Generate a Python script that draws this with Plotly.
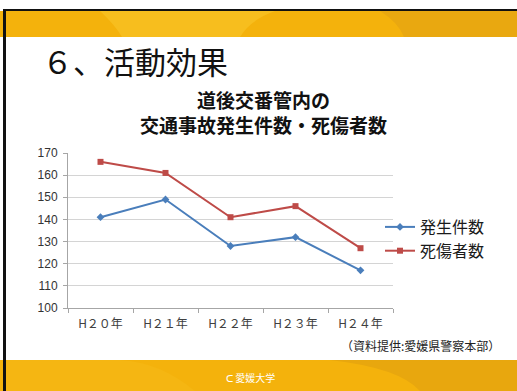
import plotly.graph_objects as go

categories = ["H２０年", "H２１年", "H２２年", "H２３年", "H２４年"]
hassei = [141, 149, 128, 132, 117]
shisho = [166, 161, 141, 146, 127]
series_names = ["発生件数", "死傷者数"]
y_ticks = [100, 110, 120, 130, 140, 150, 160, 170]

W, H = 517, 391
L, R, T, B = 68, 393, 153, 308

fig = go.Figure()
fig.add_trace(go.Scatter(
    x=categories, y=hassei, name=series_names[0], mode="lines+markers",
    line=dict(color="#4A7EBB", width=2),
    marker=dict(symbol="diamond", size=6, color="#4A7EBB"),
))
fig.add_trace(go.Scatter(
    x=categories, y=shisho, name=series_names[1], mode="lines+markers",
    line=dict(color="#BE4B48", width=2),
    marker=dict(symbol="square", size=6, color="#BE4B48"),
))

jp = "Noto Sans CJK JP, Noto Sans, sans-serif"

def px(x):
    return (x - L) / (R - L)

def py(y):
    return (B - y) / (B - T)

fig.update_layout(
    width=W, height=H,
    margin=dict(l=L, r=W - R, t=T, b=H - B),
    paper_bgcolor="white", plot_bgcolor="white",
    font=dict(family=jp, color="#404040"),
    showlegend=True,
    legend=dict(
        x=px(380), xanchor="left",
        y=py(239), yanchor="middle",
        font=dict(size=16, color="#1a1a1a", family=jp),
        itemwidth=30, tracegroupgap=0, bgcolor="rgba(0,0,0,0)",
    ),
    xaxis=dict(
        type="category", showgrid=False, showline=True, linecolor="#a6a6a6",
        ticks="outside", tickson="boundaries", ticklen=4, tickcolor="#a6a6a6",
        tickfont=dict(size=12, color="#404040", family=jp),
        ticklabelstandoff=5,
        range=[-0.5, 4.5],
    ),
    yaxis=dict(
        range=[100, 170], tickvals=y_ticks, showgrid=True, gridcolor="#d4d4d4",
        showline=True, linecolor="#a6a6a6", ticks="outside", ticklen=4,
        tickcolor="#a6a6a6", zeroline=False, ticklabelstandoff=3,
        tickfont=dict(size=12, color="#333333", family="Liberation Sans, Arial, sans-serif"),
    ),
)

shapes = [
    # top orange band
    dict(type="rect", xref="paper", yref="paper", x0=px(0), x1=px(517),
         y0=py(37), y1=py(11), fillcolor="#F4B20C", line=dict(width=0), layer="below"),
    # bottom orange band
    dict(type="rect", xref="paper", yref="paper", x0=px(0), x1=px(517),
         y0=py(391), y1=py(360), fillcolor="#F4B20C", line=dict(width=0), layer="below"),
    # swooshes
    dict(type="path", xref="paper", yref="paper",
         path=f"M {px(100)},{py(11)} Q {px(115)},{py(25)} {px(122)},{py(37)} L {px(240)},{py(37)} Q {px(250)},{py(20)} {px(275)},{py(11)} Z",
         fillcolor="#F7BE1E", line=dict(width=0), layer="below"),
    dict(type="path", xref="paper", yref="paper",
         path=f"M {px(380)},{py(11)} Q {px(398)},{py(22)} {px(404)},{py(37)} L {px(517)},{py(37)} L {px(517)},{py(11)} Z",
         fillcolor="#E9A810", line=dict(width=0), layer="below"),
    dict(type="path", xref="paper", yref="paper",
         path=f"M {px(120)},{py(360)} Q {px(160)},{py(362)} {px(195)},{py(391)} L {px(6)},{py(391)} L {px(6)},{py(360)} Z",
         fillcolor="#F5B612", line=dict(width=0), layer="below"),
    dict(type="path", xref="paper", yref="paper",
         path=f"M {px(330)},{py(360)} Q {px(400)},{py(368)} {px(420)},{py(391)} L {px(517)},{py(391)} L {px(517)},{py(360)} Z",
         fillcolor="#E8A70E", line=dict(width=0), layer="below"),
    # black frame lines
    dict(type="rect", xref="paper", yref="paper", x0=px(3), x1=px(517),
         y0=py(11), y1=py(9), fillcolor="#111111", line=dict(width=0)),
    dict(type="rect", xref="paper", yref="paper", x0=px(3), x1=px(6),
         y0=py(391), y1=py(9), fillcolor="#111111", line=dict(width=0)),
]
fig.update_layout(shapes=shapes)

annotations = [
    dict(text="６、活動効果", xref="paper", yref="paper", x=px(40), y=py(63),
         xanchor="left", yanchor="middle", showarrow=False,
         font=dict(size=31, color="#111111", family="Liberation Serif, Noto Sans CJK JP, serif")),
    dict(text="<b>道後交番管内の</b>", xref="paper", yref="paper", x=px(263), y=py(99),
         xanchor="center", yanchor="middle", showarrow=False,
         font=dict(size=19, color="#111111", family=jp)),
    dict(text="<b>交通事故発生件数・死傷者数</b>", xref="paper", yref="paper", x=px(263), y=py(124),
         xanchor="center", yanchor="middle", showarrow=False,
         font=dict(size=19, color="#111111", family=jp)),
    dict(text="（資料提供:愛媛県警察本部）", xref="paper", yref="paper", x=px(502), y=py(345),
         xanchor="right", yanchor="middle", showarrow=False,
         font=dict(size=12, color="#222222", family=jp)),
    dict(text="ᑕ 愛媛大学", xref="paper", yref="paper", x=px(250), y=py(377),
         xanchor="center", yanchor="middle", showarrow=False,
         font=dict(size=10, color="white", family=jp)),
]
fig.update_layout(annotations=annotations)

fig.write_html("out.html", config={"displayModeBar": False})
